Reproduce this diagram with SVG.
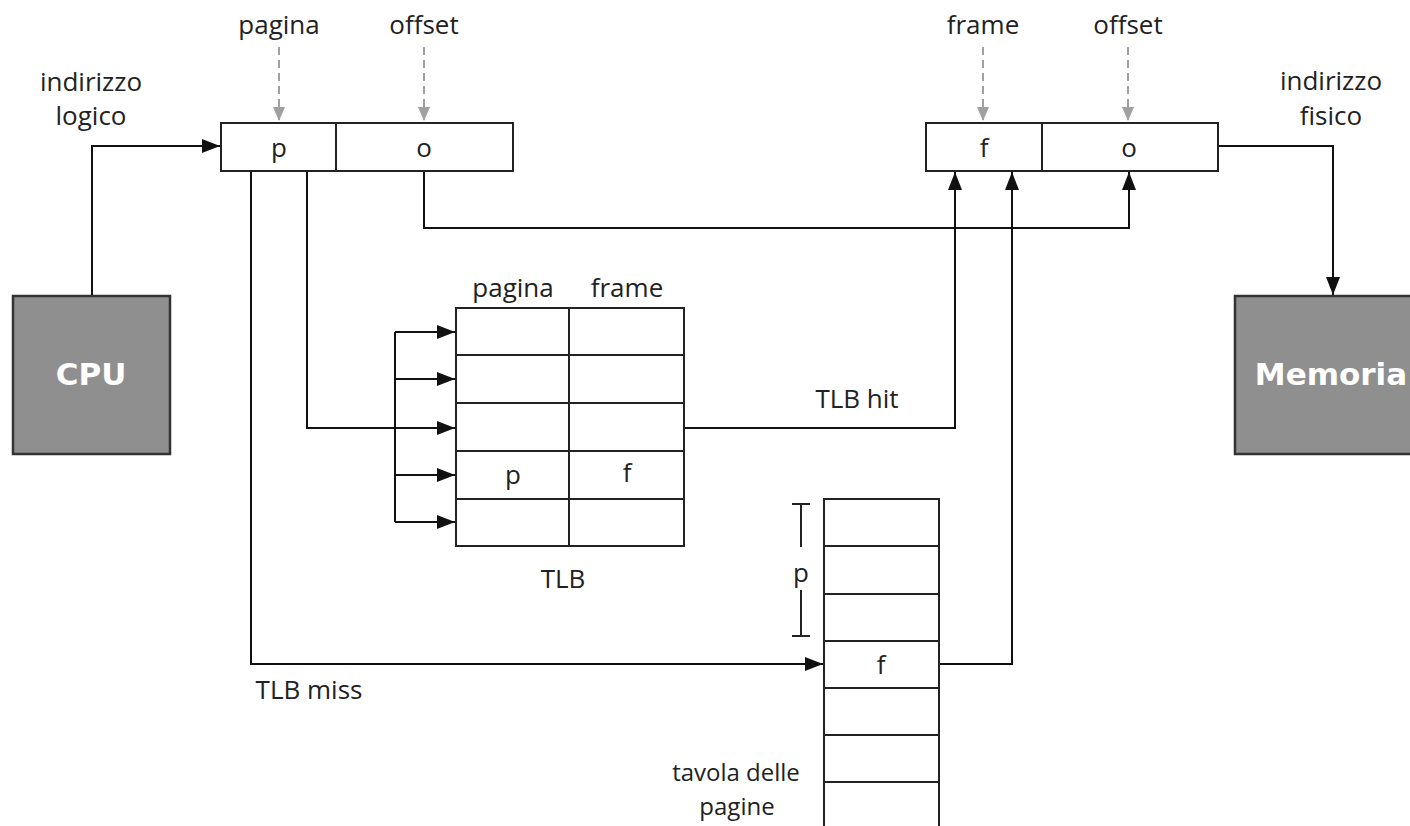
<svg xmlns="http://www.w3.org/2000/svg" width="1410" height="826" viewBox="0 0 1410 826">
<style>
text{font-family:"Open Sans","Liberation Sans",sans-serif;font-size:26px;fill:#222;text-anchor:middle}
.sm{font-size:24px}
.cell{fill:#fff;stroke:#222;stroke-width:2}
.grid{stroke:#222;stroke-width:2;fill:none}
.box{fill:#8f8f8f;stroke:#333;stroke-width:2.5}
.big{font-family:"DejaVu Sans","Liberation Sans",sans-serif;font-weight:bold;font-size:31px;fill:#fff}
.c{fill:none;stroke:#111;stroke-width:2}
.d{fill:none;stroke:#a0a0a0;stroke-width:2;stroke-dasharray:8,5}
</style>
<defs>
<marker id="ah" markerUnits="userSpaceOnUse" markerWidth="18" markerHeight="14" refX="18" refY="7" orient="auto">
<path d="M0,0 L18,7 L0,14 Z" fill="#111"/>
</marker>
<marker id="ag" markerUnits="userSpaceOnUse" markerWidth="14" markerHeight="12" refX="14" refY="6" orient="auto">
<path d="M0,0 L14,6 L0,12 Z" fill="#a0a0a0"/>
</marker>
</defs>

<g id="connectors">
<path class="c" d="M92,296 V146 H220" marker-end="url(#ah)"/>
<path class="c" d="M307,171 V428 H455" marker-end="url(#ah)"/>
<path class="c" d="M395,332 V522"/>
<path class="c" d="M395,332 H455" marker-end="url(#ah)"/>
<path class="c" d="M395,379 H455" marker-end="url(#ah)"/>
<path class="c" d="M395,475 H455" marker-end="url(#ah)"/>
<path class="c" d="M395,522 H455" marker-end="url(#ah)"/>
<path class="c" d="M251,171 V664 H823" marker-end="url(#ah)"/>
<path class="c" d="M424,171 V228 H1129 V172" marker-end="url(#ah)"/>
<path class="c" d="M684,428 H955 V172" marker-end="url(#ah)"/>
<path class="c" d="M939,664 H1012 V172" marker-end="url(#ah)"/>
<path class="c" d="M1218,146 H1333 V295" marker-end="url(#ah)"/>
<path class="d" d="M279,47 V121" marker-end="url(#ag)"/>
<path class="d" d="M424,47 V121" marker-end="url(#ag)"/>
<path class="d" d="M983,47 V121" marker-end="url(#ag)"/>
<path class="d" d="M1128,47 V121" marker-end="url(#ag)"/>
</g>

<g id="logical-address">
<rect class="cell" x="221" y="123" width="292" height="48"/>
<line class="grid" x1="336" y1="123" x2="336" y2="171"/>
<text x="279" y="157">p</text>
<text x="424" y="157">o</text>
<text x="279" y="34">pagina</text>
<text x="424" y="34">offset</text>
<text x="91" y="91">indirizzo</text>
<text x="91" y="125">logico</text>
</g>

<g id="physical-address">
<rect class="cell" x="926" y="123" width="292" height="48"/>
<line class="grid" x1="1042" y1="123" x2="1042" y2="171"/>
<text x="984" y="157">f</text>
<text x="1129" y="157">o</text>
<text x="983" y="34">frame</text>
<text x="1128" y="34">offset</text>
<text x="1331" y="90">indirizzo</text>
<text x="1331" y="125">fisico</text>
</g>

<g id="cpu">
<rect class="box" x="13" y="296" width="157" height="158"/>
<text class="big" x="91" y="385">CPU</text>
</g>

<g id="memoria">
<rect class="box" x="1235" y="296" width="190" height="158"/>
<text class="big" x="1331" y="385">Memoria</text>
</g>

<g id="tlb">
<rect class="cell" x="456" y="308" width="228" height="238"/>
<path class="grid" d="M569,308 V546 M456,355 H684 M456,403 H684 M456,451 H684 M456,499 H684"/>
<text x="513" y="297">pagina</text>
<text x="627" y="297">frame</text>
<text x="513" y="484">p</text>
<text x="627" y="482">f</text>
<text x="563" y="588">TLB</text>
<text x="857" y="408">TLB hit</text>
</g>

<g id="page-table">
<rect class="cell" x="824" y="499" width="115" height="340"/>
<path class="grid" d="M824,546 H939 M824,594 H939 M824,641 H939 M824,688 H939 M824,735 H939 M824,782 H939"/>
<text x="881" y="674">f</text>
<path class="grid" d="M792,504 H810 M801,504 V547 M801,590 V636 M792,636 H810"/>
<text x="801" y="582">p</text>
<text class="sm" x="736" y="781">tavola delle</text>
<text class="sm" x="737" y="815">pagine</text>
<text x="309" y="699">TLB miss</text>
</g>
</svg>
